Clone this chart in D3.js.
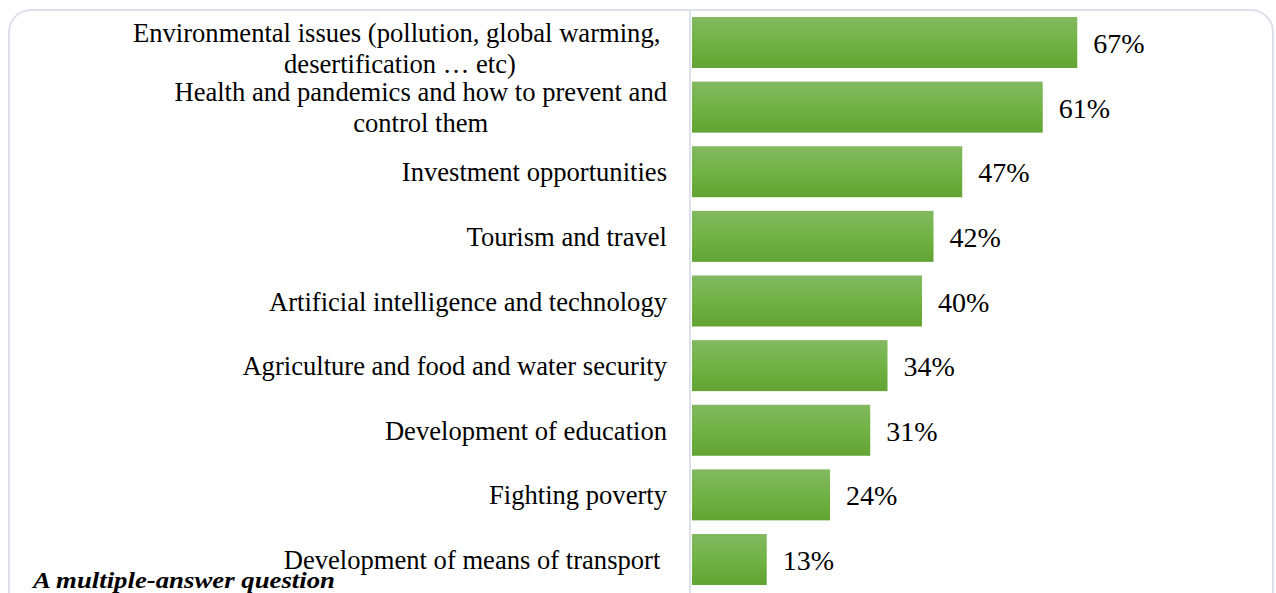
<!DOCTYPE html>
<html>
<head>
<meta charset="utf-8">
<script src="https://cdn.jsdelivr.net/npm/d3@7"></script>
<style>
  html, body { margin: 0; padding: 0; background: #fff; }
  svg { display: block; }
  text { font-family: "Liberation Serif", "Times New Roman", serif; fill: #000; white-space: pre; }
</style>
</head>
<body>
<svg id="chart" width="1276" height="593"></svg>
<script>
// Topics of interest, shares of respondents (%)
const categories = [
  ["Environmental issues (pollution, global warming, ", "desertification … etc)"],
  ["Health and pandemics and how to prevent and", "control them"],
  ["Investment opportunities"],
  ["Tourism and travel"],
  ["Artificial intelligence and technology"],
  ["Agriculture and food and water security"],
  ["Development of education"],
  ["Fighting poverty"],
  ["Development of means of transport "]
];
const values = [67, 61, 47, 42, 40, 34, 31, 24, 13];
const footnote = "A multiple-answer question";

const W = 1276, H = 593;
const svg = d3.select("#chart");

// Bar fill gradient (lighter at top)
const defs = svg.append("defs");
const grad = defs.append("linearGradient")
  .attr("id", "barGrad").attr("x1", 0).attr("y1", 0).attr("x2", 0).attr("y2", 1);
grad.append("stop").attr("offset", "0%").attr("stop-color", "#83b961");
grad.append("stop").attr("offset", "50%").attr("stop-color", "#71b244");
grad.append("stop").attr("offset", "100%").attr("stop-color", "#62a334");

// Outer rounded frame
svg.append("rect")
  .attr("x", 9).attr("y", 10).attr("width", 1264).attr("height", 620)
  .attr("rx", 22).attr("ry", 22)
  .attr("fill", "none").attr("stroke", "#dde2ea").attr("stroke-width", 2);

const plotTop = 17, plotBottom = 585;
const x = d3.scaleLinear().domain([0, 100]).range([692, 1267]);
const y = d3.scaleBand()
  .domain(d3.range(values.length))
  .range([plotTop, plotBottom])
  .paddingInner(0.211)
  .paddingOuter(0);

// Category axis line
svg.append("line")
  .attr("x1", 690).attr("x2", 690).attr("y1", 10).attr("y2", H)
  .attr("stroke", "#dde2ea").attr("stroke-width", 2);

// Bars
svg.selectAll("rect.bar")
  .data(values)
  .join("rect")
  .attr("class", "bar")
  .attr("x", x(0))
  .attr("y", (d, i) => y(i))
  .attr("width", d => x(d) - x(0))
  .attr("height", y.bandwidth())
  .attr("fill", "url(#barGrad)");

// Value labels
svg.selectAll("text.val")
  .data(values)
  .join("text")
  .attr("class", "val")
  .attr("x", d => x(d) + 16)
  .attr("y", (d, i) => y(i) + y.bandwidth() / 2)
  .attr("dy", "0.375em")
  .attr("font-size", 28)
  .text(d => d + "%");

// Category labels: right-aligned block, lines centred within it,
// block kept inside the plot's top edge
const labelRight = 667;
const lineH = 31;
categories.forEach((lines, i) => {
  const cy = y(i) + y.bandwidth() / 2;
  const blockTop = Math.max(cy - lines.length * lineH / 2, plotTop);
  const g = svg.append("g");
  const t = g.selectAll("text")
    .data(lines)
    .join("text")
    .attr("font-size", 26.6)
    .attr("dy", "0.36em")
    .attr("y", (d, k) => blockTop + (k + 0.5) * lineH)
    .text(d => d);
  if (lines.length === 1) {
    t.attr("x", labelRight).attr("text-anchor", "end");
  } else {
    const maxW = d3.max(t.nodes(), n => n.getComputedTextLength());
    t.attr("x", labelRight - maxW / 2).attr("text-anchor", "middle");
  }
});

// Footnote
svg.append("text")
  .attr("x", 33).attr("y", 588)
  .attr("font-size", 23)
  .attr("font-weight", "bold")
  .attr("font-style", "italic")
  .attr("textLength", 302)
  .attr("lengthAdjust", "spacingAndGlyphs")
  .text(footnote);
</script>
</body>
</html>
